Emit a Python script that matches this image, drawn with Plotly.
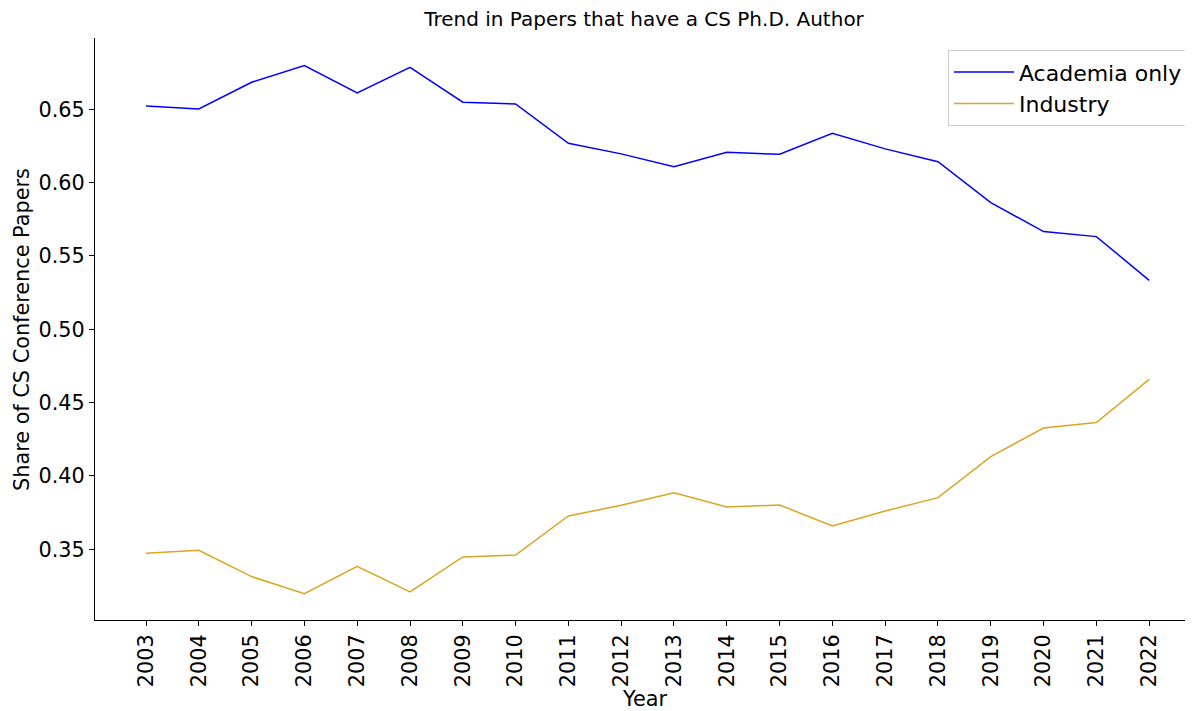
import plotly.graph_objects as go

# Data
years = list(range(2003, 2023))
academia_only = [
    0.6523, 0.6502, 0.6684, 0.6798, 0.6611, 0.6786, 0.6548, 0.6536, 0.6268, 0.6196,
    0.6109, 0.6207, 0.6193, 0.6336, 0.6230, 0.6143, 0.5864, 0.5666, 0.5632, 0.5334,
]
industry = [
    0.3473, 0.3493, 0.3314, 0.3198, 0.3384, 0.3209, 0.3448, 0.3461, 0.3727, 0.3800,
    0.3886, 0.3789, 0.3802, 0.3659, 0.3761, 0.3852, 0.4132, 0.4327, 0.4364, 0.4659,
]
y_ticks = [0.35, 0.40, 0.45, 0.50, 0.55, 0.60, 0.65]

fig = go.Figure()

fig.add_trace(
    go.Scatter(
        x=years,
        y=academia_only,
        mode="lines",
        name="Academia only",
        line=dict(color="#0000FF", width=1.5),
    )
)

fig.add_trace(
    go.Scatter(
        x=years,
        y=industry,
        mode="lines",
        name="Industry",
        line=dict(color="#DAA520", width=1.5),
    )
)

# Axis titles placed as annotations so they sit where matplotlib put them
fig.add_annotation(
    text="Year", xref="paper", yref="paper", x=0.5, y=-0.136,
    xanchor="center", yanchor="middle", showarrow=False,
    font=dict(size=20.8),
)
fig.add_annotation(
    text="Share of CS Conference Papers", xref="paper", yref="paper",
    x=-0.0665, y=0.5, xanchor="center", yanchor="middle", showarrow=False,
    textangle=-90, font=dict(size=20.8),
)

# The page body adds an 8px margin, so the figure is 8px smaller each way
fig.update_layout(
    width=1185,
    height=703,
    margin=dict(l=87, r=0, t=30, b=91, autoexpand=False),
    paper_bgcolor="#FFFFFF",
    plot_bgcolor="#FFFFFF",
    font=dict(family="DejaVu Sans", size=20.8, color="#000000"),
    title=dict(
        text="Trend in Papers that have a CS Ph.D. Author",
        x=0.5,
        xref="paper",
        xanchor="center",
        y=0.984,
        yref="container",
        yanchor="middle",
        font=dict(size=20),
    ),
    xaxis=dict(
        tickmode="array",
        tickvals=years,
        ticktext=[str(y) for y in years],
        tickangle=-90,
        range=[2002.034, 2022.83],
        automargin=False,
        showgrid=False,
        zeroline=False,
        showline=True,
        linecolor="#000000",
        linewidth=1,
        ticks="outside",
        ticklen=5,
        tickcolor="#000000",
    ),
    yaxis=dict(
        tickmode="array",
        tickvals=y_ticks,
        tickformat=".2f",
        range=[0.3018, 0.6986],
        automargin=False,
        showgrid=False,
        zeroline=False,
        showline=True,
        linecolor="#000000",
        linewidth=1,
        ticks="outside",
        ticklen=5,
        tickcolor="#000000",
    ),
    legend=dict(
        x=0.9954,
        xanchor="right",
        y=0.979,
        yanchor="top",
        bgcolor="rgba(255,255,255,0.8)",
        bordercolor="#CCCCCC",
        borderwidth=1,
        font=dict(size=22),
        itemwidth=60,
        tracegroupgap=2,
    ),
    showlegend=True,
)

fig.write_html("out.html")
